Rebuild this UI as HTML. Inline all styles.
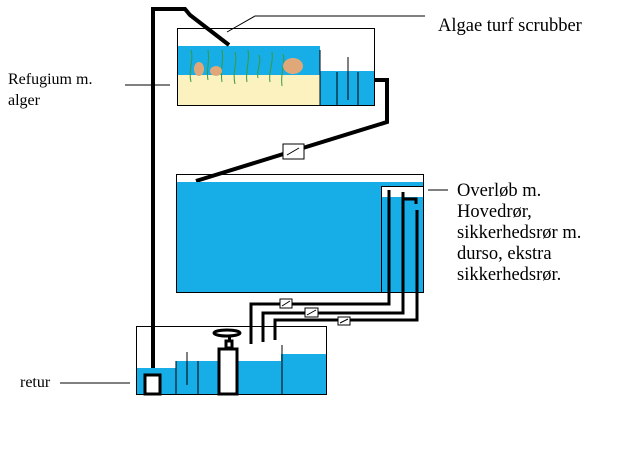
<!DOCTYPE html><html><head><style>body{margin:0;background:#fff}svg{display:block}text{font-family:"Liberation Serif",serif;font-size:16px;fill:#000}.b{font-size:18.5px}</style></head><body>
<svg width="640" height="461" viewBox="0 0 640 461">
<rect width="640" height="461" fill="#fff"/>
<rect x="177" y="46" width="143" height="29" fill="#17ade6"/>
<rect x="177" y="75" width="143" height="31" fill="#fbf2bf"/>
<rect x="320" y="71" width="54" height="35" fill="#17ade6"/>
<rect x="177.5" y="28.5" width="197" height="77" fill="none" stroke="#000"/>
<line x1="320" y1="50" x2="320" y2="106" stroke="#000"/>
<g stroke="#000"><line x1="337" y1="72" x2="337" y2="106"/><line x1="348" y1="57" x2="348" y2="100"/><line x1="358" y1="72" x2="358" y2="106"/></g>
<g stroke="#3a9a3a" stroke-width="1" fill="none">
<path d="M191 50 C194 60 188 70 191 82"/><path d="M208 50 C210 62 206 70 208 80"/><path d="M222 50 C224 60 220 70 222 82"/><path d="M235 52 C238 62 232 72 235 84"/><path d="M248 50 C250 62 245 72 247 82"/><path d="M259 55 C262 62 256 70 258 78"/><path d="M272 52 C274 62 268 72 270 82"/><path d="M283 54 C286 62 280 72 282 86"/>
</g>
<ellipse cx="199" cy="69" rx="5" ry="7" fill="#e0a878"/>
<ellipse cx="216" cy="71" rx="6" ry="5" fill="#e0a878"/>
<ellipse cx="293" cy="66" rx="10" ry="8" fill="#e0a878"/>
<path d="M153 392 V9 H185 L190 15 L229 45" fill="none" stroke="#000" stroke-width="4"/>
<path d="M374 80 H387 V122 L196 181" fill="none" stroke="#000" stroke-width="4"/>
<rect x="283" y="144" width="21" height="15" fill="#fff" stroke="#000"/><line x1="287" y1="155" x2="299" y2="148" stroke="#000"/>
<path d="M227 32 L255 16 H425" fill="none" stroke="#000"/>
<line x1="125" y1="85" x2="170" y2="85" stroke="#000"/>
<rect x="177" y="182" width="247" height="111" fill="#17ade6"/>
<rect x="176.5" y="174.5" width="247" height="118" fill="none" stroke="#000"/>
<rect x="381.5" y="186.5" width="42" height="106" fill="none" stroke="#000"/>
<rect x="382" y="187" width="41" height="10" fill="#fff"/>
<g fill="none" stroke="#000" stroke-width="3">
<path d="M389 190 V304 H251 V344"/><path d="M403 192 V313 H263 V342"/><path d="M403 199 H416 V204"/><path d="M417 210 V320 H275 V340"/>
</g>
<g fill="#fff" stroke="#000"><rect x="280" y="299" width="12" height="9"/><rect x="305" y="308" width="13" height="9"/><rect x="338" y="317" width="12" height="8"/></g>
<g stroke="#000"><line x1="282" y1="306" x2="290" y2="301"/><line x1="307" y1="315" x2="316" y2="310"/><line x1="340" y1="323" x2="348" y2="319"/></g>
<line x1="428" y1="190" x2="448" y2="190" stroke="#000"/>
<rect x="137" y="368" width="39" height="27" fill="#17ade6"/>
<rect x="176" y="361" width="105" height="34" fill="#17ade6"/>
<rect x="281" y="354" width="46" height="41" fill="#17ade6"/>
<rect x="136.5" y="326.5" width="190" height="68" fill="none" stroke="#000"/>
<g stroke="#000"><line x1="176" y1="361" x2="176" y2="395"/><line x1="198" y1="361" x2="198" y2="395"/><line x1="282" y1="345" x2="282" y2="395"/><line x1="187" y1="352" x2="187" y2="385"/></g>
<rect x="145" y="375" width="15" height="19" fill="#fff" stroke="#000" stroke-width="3"/>
<rect x="219" y="349" width="18" height="45" fill="#fff" stroke="#000" stroke-width="3"/>
<rect x="226" y="341" width="6" height="7" fill="#fff" stroke="#000" stroke-width="3"/>
<rect x="228" y="336" width="3" height="4" fill="#000"/>
<ellipse cx="227" cy="333" rx="13" ry="3" fill="none" stroke="#000" stroke-width="3"/>
<line x1="60" y1="383" x2="130" y2="383" stroke="#000"/>
<text class="b" x="438" y="31">Algae turf scrubber</text>
<text x="8" y="84">Refugium m.</text><text x="8" y="105">alger</text>
<text x="20" y="387">retur</text>
<text class="b" x="457" y="196">Overløb m.</text>
<text class="b" x="457" y="217">Hovedrør,</text>
<text class="b" x="457" y="238">sikkerhedsrør m.</text>
<text class="b" x="457" y="259">durso, ekstra</text>
<text class="b" x="457" y="280">sikkerhedsrør.</text>
</svg></body></html>
